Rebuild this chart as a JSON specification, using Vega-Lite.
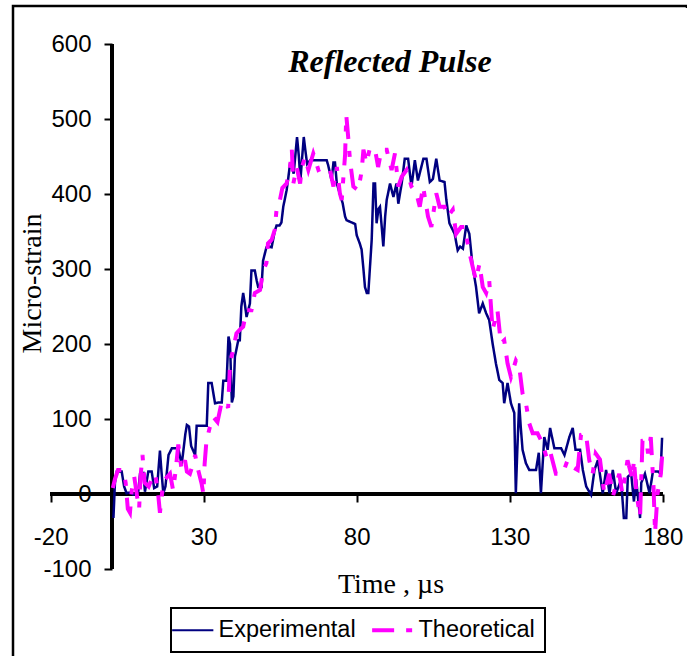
{
  "$schema": "https://vega.github.io/schema/vega-lite/v6.json",
  "width": 687,
  "height": 657,
  "autosize": {"type": "fit", "contains": "padding"},
  "padding": {"left": 13, "top": 6, "right": 0, "bottom": 0},
  "background": "white",
  "config": {
    "view": {"stroke": "black", "strokeWidth": 2.5, "strokeDash": [676, 1324, 700]},
    "axis": {"grid": false, "domain": false, "tickColor": "black", "tickWidth": 2, "tickSize": 8, "labelColor": "black", "labelFont": "Liberation Sans", "labelFontSize": 24, "titleFont": "Liberation Serif", "titleFontSize": 28, "titleFontWeight": "normal", "titleColor": "black", "labelExpr": "'' + datum.value"}
  },
  "title": {"text": "Reflected Pulse", "font": "Liberation Serif", "fontSize": 32, "fontWeight": "bold", "fontStyle": "italic", "color": "black", "anchor": "middle", "frame": "group", "orient": "top", "offset": 0, "baseline": "alphabetic", "dx": 40, "dy": 98},
  "data": {"values": [
    {"t":0.5,"v":-32,"s":"Experimental"},{"t":1.0,"v":15,"s":"Experimental"},{"t":1.6,"v":30,"s":"Experimental"},{"t":3.2,"v":30,"s":"Experimental"},{"t":4.0,"v":10,"s":"Experimental"},{"t":4.8,"v":1,"s":"Experimental"},{"t":6,"v":2,"s":"Experimental"},{"t":7,"v":-1,"s":"Experimental"},{"t":8,"v":0,"s":"Experimental"},{"t":8.6,"v":3,"s":"Experimental"},{"t":9.2,"v":27,"s":"Experimental"},{"t":10.3,"v":28,"s":"Experimental"},{"t":10.8,"v":3,"s":"Experimental"},{"t":11.9,"v":30,"s":"Experimental"},{"t":13,"v":30,"s":"Experimental"},{"t":13.8,"v":8,"s":"Experimental"},{"t":14.8,"v":10,"s":"Experimental"},{"t":15.7,"v":58,"s":"Experimental"},{"t":16.2,"v":30,"s":"Experimental"},{"t":16.8,"v":1,"s":"Experimental"},{"t":17.5,"v":10,"s":"Experimental"},{"t":18.5,"v":52,"s":"Experimental"},{"t":19.6,"v":61,"s":"Experimental"},{"t":21.7,"v":61,"s":"Experimental"},{"t":22.8,"v":39,"s":"Experimental"},{"t":24,"v":80,"s":"Experimental"},{"t":24.5,"v":92,"s":"Experimental"},{"t":25.2,"v":90,"s":"Experimental"},{"t":25.9,"v":64,"s":"Experimental"},{"t":27.2,"v":52,"s":"Experimental"},{"t":27.7,"v":91,"s":"Experimental"},{"t":31,"v":91,"s":"Experimental"},{"t":31.5,"v":148,"s":"Experimental"},{"t":32.6,"v":148,"s":"Experimental"},{"t":33.7,"v":121,"s":"Experimental"},{"t":34.8,"v":122,"s":"Experimental"},{"t":35.9,"v":122,"s":"Experimental"},{"t":36.4,"v":151,"s":"Experimental"},{"t":37.5,"v":151,"s":"Experimental"},{"t":38.1,"v":210,"s":"Experimental"},{"t":38.6,"v":200,"s":"Experimental"},{"t":39.2,"v":122,"s":"Experimental"},{"t":39.7,"v":130,"s":"Experimental"},{"t":40.2,"v":183,"s":"Experimental"},{"t":41.3,"v":205,"s":"Experimental"},{"t":41.8,"v":205,"s":"Experimental"},{"t":42.3,"v":250,"s":"Experimental"},{"t":42.9,"v":268,"s":"Experimental"},{"t":43.4,"v":255,"s":"Experimental"},{"t":44,"v":236,"s":"Experimental"},{"t":45.1,"v":254,"s":"Experimental"},{"t":45.6,"v":298,"s":"Experimental"},{"t":46.7,"v":298,"s":"Experimental"},{"t":47.3,"v":285,"s":"Experimental"},{"t":47.8,"v":276,"s":"Experimental"},{"t":48.9,"v":276,"s":"Experimental"},{"t":49.4,"v":311,"s":"Experimental"},{"t":50.5,"v":329,"s":"Experimental"},{"t":51,"v":330,"s":"Experimental"},{"t":52.2,"v":329,"s":"Experimental"},{"t":53.2,"v":350,"s":"Experimental"},{"t":53.8,"v":358,"s":"Experimental"},{"t":54.8,"v":358,"s":"Experimental"},{"t":55.4,"v":362,"s":"Experimental"},{"t":56,"v":383,"s":"Experimental"},{"t":57.1,"v":405,"s":"Experimental"},{"t":57.6,"v":420,"s":"Experimental"},{"t":58.2,"v":440,"s":"Experimental"},{"t":58.8,"v":440,"s":"Experimental"},{"t":59.4,"v":427,"s":"Experimental"},{"t":60.5,"v":476,"s":"Experimental"},{"t":61.1,"v":450,"s":"Experimental"},{"t":61.6,"v":418,"s":"Experimental"},{"t":62.2,"v":450,"s":"Experimental"},{"t":62.7,"v":476,"s":"Experimental"},{"t":63.2,"v":459,"s":"Experimental"},{"t":63.8,"v":440,"s":"Experimental"},{"t":64.8,"v":445,"s":"Experimental"},{"t":70.2,"v":445,"s":"Experimental"},{"t":70.7,"v":438,"s":"Experimental"},{"t":71.8,"v":418,"s":"Experimental"},{"t":72.4,"v":442,"s":"Experimental"},{"t":72.9,"v":442,"s":"Experimental"},{"t":73.5,"v":414,"s":"Experimental"},{"t":74.5,"v":400,"s":"Experimental"},{"t":75.4,"v":388,"s":"Experimental"},{"t":76.2,"v":370,"s":"Experimental"},{"t":76.7,"v":365,"s":"Experimental"},{"t":79.5,"v":360,"s":"Experimental"},{"t":80,"v":345,"s":"Experimental"},{"t":81,"v":334,"s":"Experimental"},{"t":81.6,"v":326,"s":"Experimental"},{"t":82.2,"v":300,"s":"Experimental"},{"t":82.7,"v":276,"s":"Experimental"},{"t":83.3,"v":268,"s":"Experimental"},{"t":83.8,"v":268,"s":"Experimental"},{"t":84.9,"v":339,"s":"Experimental"},{"t":85.5,"v":414,"s":"Experimental"},{"t":86,"v":414,"s":"Experimental"},{"t":86.5,"v":361,"s":"Experimental"},{"t":87.1,"v":380,"s":"Experimental"},{"t":87.6,"v":383,"s":"Experimental"},{"t":88.2,"v":355,"s":"Experimental"},{"t":88.7,"v":330,"s":"Experimental"},{"t":89.3,"v":370,"s":"Experimental"},{"t":89.8,"v":392,"s":"Experimental"},{"t":90.9,"v":414,"s":"Experimental"},{"t":92,"v":396,"s":"Experimental"},{"t":93,"v":414,"s":"Experimental"},{"t":93.6,"v":387,"s":"Experimental"},{"t":94.7,"v":414,"s":"Experimental"},{"t":95.7,"v":447,"s":"Experimental"},{"t":96.8,"v":447,"s":"Experimental"},{"t":97.9,"v":410,"s":"Experimental"},{"t":99,"v":445,"s":"Experimental"},{"t":100,"v":418,"s":"Experimental"},{"t":101.8,"v":447,"s":"Experimental"},{"t":102.8,"v":447,"s":"Experimental"},{"t":103.9,"v":416,"s":"Experimental"},{"t":104.9,"v":420,"s":"Experimental"},{"t":106,"v":447,"s":"Experimental"},{"t":107.1,"v":418,"s":"Experimental"},{"t":108.7,"v":416,"s":"Experimental"},{"t":109.3,"v":392,"s":"Experimental"},{"t":110.3,"v":361,"s":"Experimental"},{"t":112,"v":347,"s":"Experimental"},{"t":113,"v":325,"s":"Experimental"},{"t":113.8,"v":330,"s":"Experimental"},{"t":114.7,"v":327,"s":"Experimental"},{"t":115.8,"v":358,"s":"Experimental"},{"t":116.8,"v":347,"s":"Experimental"},{"t":117.9,"v":303,"s":"Experimental"},{"t":119,"v":276,"s":"Experimental"},{"t":120,"v":241,"s":"Experimental"},{"t":121.2,"v":254,"s":"Experimental"},{"t":122.3,"v":241,"s":"Experimental"},{"t":123.3,"v":232,"s":"Experimental"},{"t":124.4,"v":201,"s":"Experimental"},{"t":125.5,"v":174,"s":"Experimental"},{"t":126.6,"v":152,"s":"Experimental"},{"t":127.7,"v":148,"s":"Experimental"},{"t":128.2,"v":121,"s":"Experimental"},{"t":129.3,"v":148,"s":"Experimental"},{"t":130.4,"v":121,"s":"Experimental"},{"t":131.5,"v":108,"s":"Experimental"},{"t":132,"v":1,"s":"Experimental"},{"t":132.5,"v":60,"s":"Experimental"},{"t":133.1,"v":121,"s":"Experimental"},{"t":133.6,"v":90,"s":"Experimental"},{"t":134.2,"v":59,"s":"Experimental"},{"t":135.3,"v":41,"s":"Experimental"},{"t":136.4,"v":32,"s":"Experimental"},{"t":138.6,"v":32,"s":"Experimental"},{"t":139.5,"v":55,"s":"Experimental"},{"t":140.2,"v":1,"s":"Experimental"},{"t":141.3,"v":76,"s":"Experimental"},{"t":142.4,"v":59,"s":"Experimental"},{"t":143.2,"v":88,"s":"Experimental"},{"t":144.6,"v":61,"s":"Experimental"},{"t":146.8,"v":61,"s":"Experimental"},{"t":147.9,"v":52,"s":"Experimental"},{"t":149.5,"v":76,"s":"Experimental"},{"t":150.6,"v":88,"s":"Experimental"},{"t":151.5,"v":59,"s":"Experimental"},{"t":153,"v":59,"s":"Experimental"},{"t":153.9,"v":32,"s":"Experimental"},{"t":155,"v":10,"s":"Experimental"},{"t":156.6,"v":-1,"s":"Experimental"},{"t":157.7,"v":32,"s":"Experimental"},{"t":158.8,"v":45,"s":"Experimental"},{"t":160.4,"v":1,"s":"Experimental"},{"t":161.5,"v":32,"s":"Experimental"},{"t":162.6,"v":1,"s":"Experimental"},{"t":163.7,"v":32,"s":"Experimental"},{"t":164.8,"v":1,"s":"Experimental"},{"t":166.4,"v":19,"s":"Experimental"},{"t":167.3,"v":-32,"s":"Experimental"},{"t":168.1,"v":-32,"s":"Experimental"},{"t":168.6,"v":23,"s":"Experimental"},{"t":169.7,"v":27,"s":"Experimental"},{"t":170.6,"v":-10,"s":"Experimental"},{"t":171.3,"v":20,"s":"Experimental"},{"t":172.6,"v":-32,"s":"Experimental"},{"t":173,"v":15,"s":"Experimental"},{"t":174.2,"v":27,"s":"Experimental"},{"t":175.7,"v":1,"s":"Experimental"},{"t":176.8,"v":30,"s":"Experimental"},{"t":178.5,"v":30,"s":"Experimental"},{"t":179.3,"v":27,"s":"Experimental"},{"t":179.8,"v":75,"s":"Experimental"},
    {"t":0.3,"v":8,"s":"Theoretical"},{"t":1,"v":20,"s":"Theoretical"},{"t":2,"v":32,"s":"Theoretical"},{"t":3.7,"v":32,"s":"Theoretical"},{"t":4.5,"v":15,"s":"Theoretical"},{"t":5.2,"v":-20,"s":"Theoretical"},{"t":5.9,"v":-25,"s":"Theoretical"},{"t":6.5,"v":5,"s":"Theoretical"},{"t":7.3,"v":23,"s":"Theoretical"},{"t":8.3,"v":-5,"s":"Theoretical"},{"t":8.9,"v":-20,"s":"Theoretical"},{"t":9.3,"v":20,"s":"Theoretical"},{"t":10,"v":52,"s":"Theoretical"},{"t":10.7,"v":15,"s":"Theoretical"},{"t":12,"v":10,"s":"Theoretical"},{"t":13,"v":20,"s":"Theoretical"},{"t":14.1,"v":27,"s":"Theoretical"},{"t":15,"v":5,"s":"Theoretical"},{"t":15.7,"v":-25,"s":"Theoretical"},{"t":16.5,"v":5,"s":"Theoretical"},{"t":17.5,"v":20,"s":"Theoretical"},{"t":19,"v":27,"s":"Theoretical"},{"t":20,"v":5,"s":"Theoretical"},{"t":20.8,"v":30,"s":"Theoretical"},{"t":21.7,"v":66,"s":"Theoretical"},{"t":22.8,"v":32,"s":"Theoretical"},{"t":23.9,"v":45,"s":"Theoretical"},{"t":24.5,"v":30,"s":"Theoretical"},{"t":25.5,"v":27,"s":"Theoretical"},{"t":26.5,"v":40,"s":"Theoretical"},{"t":27.2,"v":52,"s":"Theoretical"},{"t":28.2,"v":32,"s":"Theoretical"},{"t":29.3,"v":14,"s":"Theoretical"},{"t":29.9,"v":0,"s":"Theoretical"},{"t":30.3,"v":40,"s":"Theoretical"},{"t":30.9,"v":71,"s":"Theoretical"},{"t":32,"v":89,"s":"Theoretical"},{"t":33.1,"v":103,"s":"Theoretical"},{"t":34.5,"v":96,"s":"Theoretical"},{"t":35.8,"v":121,"s":"Theoretical"},{"t":36.9,"v":124,"s":"Theoretical"},{"t":38,"v":115,"s":"Theoretical"},{"t":38.6,"v":174,"s":"Theoretical"},{"t":39.6,"v":192,"s":"Theoretical"},{"t":40.7,"v":214,"s":"Theoretical"},{"t":41.8,"v":219,"s":"Theoretical"},{"t":42.9,"v":223,"s":"Theoretical"},{"t":44,"v":245,"s":"Theoretical"},{"t":45.6,"v":245,"s":"Theoretical"},{"t":46.7,"v":268,"s":"Theoretical"},{"t":48.4,"v":272,"s":"Theoretical"},{"t":49.4,"v":297,"s":"Theoretical"},{"t":50.5,"v":308,"s":"Theoretical"},{"t":51,"v":334,"s":"Theoretical"},{"t":52.2,"v":339,"s":"Theoretical"},{"t":53.2,"v":352,"s":"Theoretical"},{"t":53.8,"v":379,"s":"Theoretical"},{"t":54.9,"v":392,"s":"Theoretical"},{"t":55.7,"v":408,"s":"Theoretical"},{"t":57.1,"v":414,"s":"Theoretical"},{"t":58.2,"v":436,"s":"Theoretical"},{"t":58.8,"v":459,"s":"Theoretical"},{"t":59.3,"v":414,"s":"Theoretical"},{"t":60.4,"v":436,"s":"Theoretical"},{"t":61.5,"v":414,"s":"Theoretical"},{"t":62.1,"v":436,"s":"Theoretical"},{"t":63.1,"v":449,"s":"Theoretical"},{"t":64.2,"v":432,"s":"Theoretical"},{"t":65.8,"v":454,"s":"Theoretical"},{"t":67.5,"v":432,"s":"Theoretical"},{"t":69.6,"v":436,"s":"Theoretical"},{"t":71.3,"v":432,"s":"Theoretical"},{"t":72.4,"v":410,"s":"Theoretical"},{"t":73.5,"v":436,"s":"Theoretical"},{"t":74.5,"v":401,"s":"Theoretical"},{"t":75.1,"v":392,"s":"Theoretical"},{"t":76.2,"v":452,"s":"Theoretical"},{"t":76.6,"v":505,"s":"Theoretical"},{"t":77.3,"v":472,"s":"Theoretical"},{"t":77.8,"v":445,"s":"Theoretical"},{"t":78.9,"v":410,"s":"Theoretical"},{"t":80.5,"v":405,"s":"Theoretical"},{"t":81.6,"v":430,"s":"Theoretical"},{"t":82.2,"v":459,"s":"Theoretical"},{"t":83.2,"v":441,"s":"Theoretical"},{"t":84.3,"v":461,"s":"Theoretical"},{"t":86,"v":459,"s":"Theoretical"},{"t":87,"v":436,"s":"Theoretical"},{"t":88.1,"v":459,"s":"Theoretical"},{"t":89.8,"v":459,"s":"Theoretical"},{"t":91.4,"v":432,"s":"Theoretical"},{"t":92.5,"v":454,"s":"Theoretical"},{"t":93.6,"v":410,"s":"Theoretical"},{"t":94.7,"v":423,"s":"Theoretical"},{"t":96.3,"v":432,"s":"Theoretical"},{"t":97.9,"v":410,"s":"Theoretical"},{"t":99.5,"v":401,"s":"Theoretical"},{"t":100.6,"v":383,"s":"Theoretical"},{"t":101.7,"v":410,"s":"Theoretical"},{"t":103.3,"v":370,"s":"Theoretical"},{"t":104.4,"v":356,"s":"Theoretical"},{"t":106,"v":401,"s":"Theoretical"},{"t":107.1,"v":383,"s":"Theoretical"},{"t":108.7,"v":383,"s":"Theoretical"},{"t":109.8,"v":370,"s":"Theoretical"},{"t":111.4,"v":379,"s":"Theoretical"},{"t":112.5,"v":347,"s":"Theoretical"},{"t":114.1,"v":356,"s":"Theoretical"},{"t":115.2,"v":356,"s":"Theoretical"},{"t":116.9,"v":321,"s":"Theoretical"},{"t":117.9,"v":303,"s":"Theoretical"},{"t":119,"v":285,"s":"Theoretical"},{"t":120.1,"v":307,"s":"Theoretical"},{"t":121.2,"v":276,"s":"Theoretical"},{"t":122.3,"v":268,"s":"Theoretical"},{"t":123.3,"v":285,"s":"Theoretical"},{"t":124.4,"v":219,"s":"Theoretical"},{"t":126,"v":245,"s":"Theoretical"},{"t":127.1,"v":201,"s":"Theoretical"},{"t":128.2,"v":205,"s":"Theoretical"},{"t":129.3,"v":174,"s":"Theoretical"},{"t":130.4,"v":156,"s":"Theoretical"},{"t":132,"v":178,"s":"Theoretical"},{"t":133.1,"v":170,"s":"Theoretical"},{"t":134.2,"v":134,"s":"Theoretical"},{"t":135.3,"v":121,"s":"Theoretical"},{"t":136.4,"v":94,"s":"Theoretical"},{"t":137.5,"v":81,"s":"Theoretical"},{"t":139.1,"v":81,"s":"Theoretical"},{"t":140.7,"v":68,"s":"Theoretical"},{"t":142.3,"v":45,"s":"Theoretical"},{"t":143.4,"v":54,"s":"Theoretical"},{"t":145.1,"v":27,"s":"Theoretical"},{"t":147.3,"v":27,"s":"Theoretical"},{"t":148.9,"v":45,"s":"Theoretical"},{"t":150.5,"v":36,"s":"Theoretical"},{"t":152.2,"v":32,"s":"Theoretical"},{"t":153.3,"v":79,"s":"Theoretical"},{"t":154.9,"v":81,"s":"Theoretical"},{"t":156,"v":45,"s":"Theoretical"},{"t":157.1,"v":27,"s":"Theoretical"},{"t":158.1,"v":54,"s":"Theoretical"},{"t":159.5,"v":46,"s":"Theoretical"},{"t":160.9,"v":1,"s":"Theoretical"},{"t":162.5,"v":27,"s":"Theoretical"},{"t":163.8,"v":-2,"s":"Theoretical"},{"t":165.8,"v":27,"s":"Theoretical"},{"t":166.8,"v":1,"s":"Theoretical"},{"t":168.5,"v":45,"s":"Theoretical"},{"t":170.1,"v":20,"s":"Theoretical"},{"t":170.6,"v":46,"s":"Theoretical"},{"t":171.4,"v":1,"s":"Theoretical"},{"t":172.6,"v":-30,"s":"Theoretical"},{"t":173.4,"v":71,"s":"Theoretical"},{"t":174.7,"v":72,"s":"Theoretical"},{"t":175.2,"v":54,"s":"Theoretical"},{"t":176.1,"v":76,"s":"Theoretical"},{"t":177,"v":10,"s":"Theoretical"},{"t":177.5,"v":-52,"s":"Theoretical"},{"t":178.3,"v":0,"s":"Theoretical"},{"t":179.4,"v":27,"s":"Theoretical"},{"t":179.8,"v":50,"s":"Theoretical"}
  ]},
  "layer": [
    {
      "mark": {"type": "rule", "color": "black", "strokeWidth": 2.5},
      "encoding": {"x": {"datum": -20}, "x2": {"datum": 180}, "y": {"datum": 0}}
    },
    {
      "mark": {"type": "rule", "color": "black", "strokeWidth": 2.5},
      "encoding": {"x": {"datum": 0}, "y": {"datum": -100}, "y2": {"datum": 600}}
    },
    {
      "mark": {"type": "line", "clip": true},
      "encoding": {
        "x": {"field": "t", "type": "quantitative", "scale": {"domain": [-32.32, 187.94], "nice": false, "zero": false},
          "axis": {"orient": "bottom", "offset": -163, "values": [-20, 30, 80, 130, 180], "labelPadding": 23, "title": "Time , µs", "titleX": 377.5, "titleY": 98, "titleAlign": "center", "titleBaseline": "alphabetic"}},
        "y": {"field": "v", "type": "quantitative", "scale": {"domain": [-217.33, 650.67], "nice": false, "zero": false},
          "axis": {"orient": "left", "offset": -99, "values": [-100, 0, 100, 200, 300, 400, 500, 600], "labelPadding": 13, "title": "Micro-strain", "titleAngle": -90, "titleX": -80, "titleY": 277, "titleAlign": "center", "titleBaseline": "middle"}},
        "color": {"field": "s", "type": "nominal", "scale": {"domain": ["Experimental", "Theoretical"], "range": ["#000080", "#FF00FF"]},
          "legend": {"title": null, "orient": "none", "legendX": 158, "legendY": 602, "direction": "horizontal", "strokeColor": "black", "fillColor": "white", "padding": 10, "labelFont": "Liberation Sans", "labelFontSize": 23.5, "labelColor": "black", "labelOffset": 14, "columnPadding": 8, "symbolType": "stroke", "symbolSize": 1700, "symbolStrokeWidth": 3,
            "encode": {"legend": {"update": {"strokeWidth": {"value": 2}}}, "symbols": {"update": {"strokeWidth": {"signal": "datum.value === 'Theoretical' ? 4 : 2"}}}}}},
        "strokeDash": {"field": "s", "type": "nominal", "scale": {"domain": ["Experimental", "Theoretical"], "range": [[1, 0], [22, 12, 6, 12]]}, "legend": {"title": null}},
        "strokeWidth": {"condition": {"test": "datum.s === 'Theoretical'", "value": 4}, "value": 2.5}
      }
    }
  ]
}
